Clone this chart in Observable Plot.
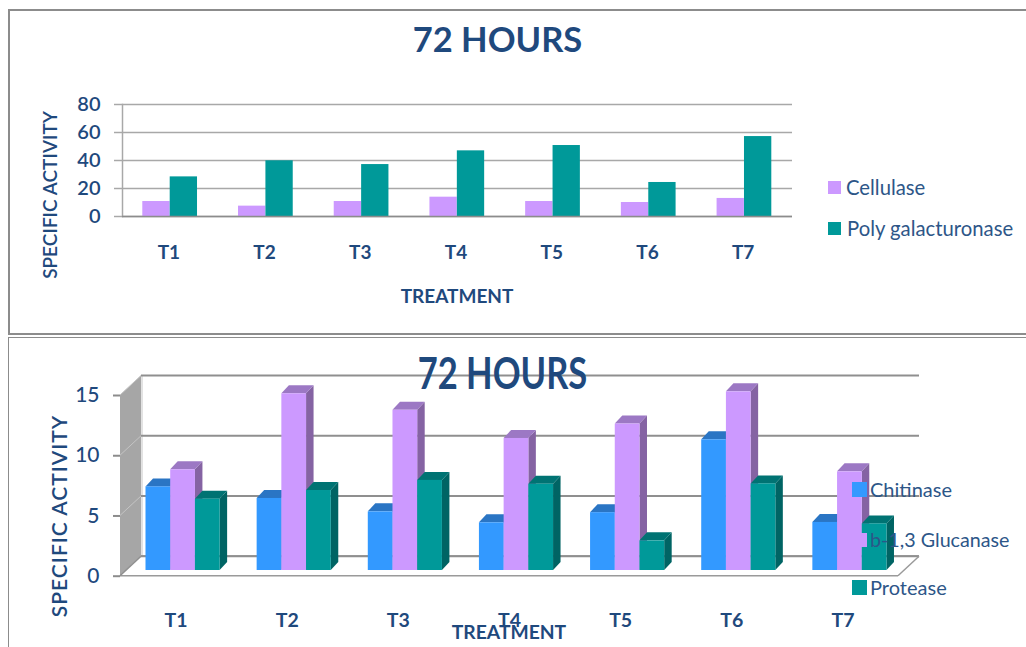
<!DOCTYPE html>
<html>
<head>
<meta charset="utf-8">
<script src="https://cdn.jsdelivr.net/npm/d3@7"></script>
<script src="https://cdn.jsdelivr.net/npm/@observablehq/plot@0.6"></script>
<style>
  html, body { margin: 0; padding: 0; background: #fff; overflow: hidden; }
  #page { position: relative; width: 1026px; height: 647px; overflow: hidden; font-family: Lato, "Open Sans", sans-serif; color: #1f497d; }
  .panel { position: absolute; left: 8px; right: -4px; border: 2px solid #8c8c8c; box-sizing: border-box; }
  .plot { position: absolute; left: 0; }
  .plot svg { display: block; background: transparent; }
  .t { position: absolute; white-space: nowrap; line-height: 1; transform-origin: center; }
  .sw { position: absolute; }
</style>
</head>
<body>
<div id="page"></div>
<script>
const treatments = ["T1", "T2", "T3", "T4", "T5", "T6", "T7"];

// Upper chart
const cellulase = [10.7, 7.4, 10.7, 13.8, 10.7, 10.0, 12.9];
const polyGalacturonase = [28.3, 39.8, 37.1, 46.9, 50.7, 24.3, 57.1];
const upperTicks = [0, 20, 40, 60, 80];

// Lower chart
const chitinase = [6.94, 5.98, 4.87, 3.96, 4.80, 10.85, 3.99];
const glucanase = [8.36, 14.67, 13.30, 10.96, 12.16, 14.83, 8.19];
const protease = [5.92, 6.64, 7.48, 7.16, 2.46, 7.19, 3.87];
const lowerTicks = [0, 5, 10, 15];

const navy = "#1f497d";
const lilac = "#cc99ff", teal = "#009999", blue = "#3399ff";
const page = document.getElementById("page");

function rows(values) { return treatments.map((t, i) => ({t, v: values[i]})); }

function addPlot(top, plot) {
  const d = document.createElement("div");
  d.className = "plot";
  d.style.top = top + "px";
  d.appendChild(plot);
  page.appendChild(d);
}
function addText(s, cx, cy, size, opts = {}) {
  const e = document.createElement("div");
  e.className = "t";
  e.textContent = s;
  e.style.fontSize = size + "px";
  e.style.fontWeight = opts.weight || 400;
  if (opts.spacing) e.style.letterSpacing = opts.spacing + "px";
  if (opts.color) e.style.color = opts.color;
  e.style.left = cx + "px";
  e.style.top = cy + "px";
  e.style.transform = `translate(-50%,-50%) ${opts.transform || ""}`;
  page.appendChild(e);
}
function addLegend(s, color, x, y, size, tx, fontSize, spacing) {
  const w = document.createElement("div");
  w.className = "sw";
  w.style.cssText = `left:${x}px;top:${y}px;width:${size}px;height:${size}px;background:${color}`;
  page.appendChild(w);
  const e = document.createElement("div");
  e.className = "t";
  e.textContent = s;
  e.style.cssText += `left:${tx}px;top:${y + size / 2}px;font-size:${fontSize}px;transform:translateY(-50%);color:#2d5688;letter-spacing:${spacing || 0}px`;
  page.appendChild(e);
}

// panel borders
const p1 = document.createElement("div");
p1.className = "panel";
p1.style.cssText = "top:9px;height:326px";
page.appendChild(p1);
const p2 = document.createElement("div");
p2.className = "panel";
p2.style.cssText = "top:337px;height:330px;border-width:1.5px";
page.appendChild(p2);

// ---------- upper chart ----------
const bandInset1 = 34.2;
addPlot(0, Plot.plot({
  width: 1026, height: 330,
  marginLeft: 122, marginRight: 234, marginTop: 104, marginBottom: 114,
  style: {fontFamily: "Lato", color: navy, background: "transparent"},
  x: {type: "band", domain: treatments, padding: 0, round: false},
  y: {domain: [0, 80]},
  marks: [
    Plot.ruleY(upperTicks, {stroke: "#a8a8a8", strokeWidth: 1.5, strokeOpacity: 1}),
    Plot.frame({anchor: "left", stroke: "#a8a8a8", strokeWidth: 1.5}),
    Plot.barY(rows(cellulase), {x: "t", y: "v", fill: lilac, dx: -13.9, insetLeft: bandInset1, insetRight: bandInset1}),
    Plot.barY(rows(polyGalacturonase), {x: "t", y: "v", fill: teal, dx: 13.5, insetLeft: bandInset1, insetRight: bandInset1}),
    Plot.ruleY([0], {stroke: "#8c8c8c", strokeWidth: 1.5}),
    Plot.axisY({ticks: upperTicks, tickSize: 8, tickPadding: 14, stroke: "#a8a8a8", strokeWidth: 1.5, fontSize: 20, fontWeight: 600, fill: navy, label: null, tickFormat: d => d}),
    Plot.axisX({tickSize: 0, tickPadding: 29, fontSize: 19, fontWeight: 700, fill: navy, label: null, dx: -1.5})
  ]
}));

// ---------- lower chart ----------
const wallDx = 21, wallDy = -19.5;
const barStep = 24.7, barDx = 7, barDy = -5.7, depthX = 7.5, depthY = -8;
const bandInset2 = 43.2;

function poly(g, pts, fill) {
  g.append("polygon").attr("points", pts.map(p => p.join(",")).join(" ")).attr("fill", fill);
}
function line(g, a, b, stroke, w) {
  g.append("line").attr("x1", a[0]).attr("y1", a[1]).attr("x2", b[0]).attr("y2", b[1])
    .attr("stroke", stroke).attr("stroke-width", w);
}
// Back wall, side wall and floor of the 3D box, placed from the plot's y scale
function box(index, {y}, values, {width, marginLeft, marginRight}) {
  const g = d3.create("svg:g");
  const l = marginLeft, r = width - marginRight;
  const y0 = y(0), yMax = y(lowerTicks[lowerTicks.length - 1]);
  poly(g, [[l, yMax], [l + wallDx, yMax + wallDy], [l + wallDx, y0 + wallDy], [l, y0]], "#a6a6a6");
  line(g, [l + wallDx + 1, yMax + wallDy], [l + wallDx + 1, y0 + wallDy], "#d9d9d9", 1.5);
  for (const v of lowerTicks) {
    line(g, [l, y(v)], [l + wallDx, y(v) + wallDy], "#c4c4c4", 1);
    line(g, [l + wallDx, y(v) + wallDy], [r + wallDx, y(v) + wallDy], "#8f8f8f", 2);
  }
  poly(g, [[l, y0], [l + wallDx, y0 + wallDy], [r + wallDx, y0 + wallDy], [r, y0]], "#ffffff");
  line(g, [l + wallDx, y0 + wallDy], [r + wallDx, y0 + wallDy], "#8f8f8f", 2);
  line(g, [l, y0], [r, y0], "#9a9a9a", 1.5);
  line(g, [r, y0], [r + wallDx, y0 + wallDy], "#9a9a9a", 1.5);
  line(g, [l, y0], [l + wallDx, y0 + wallDy], "#8f8f8f", 1.5);
  return g.node();
}
// Top and side faces of one series' bars, placed from the plot's scales
function faces(values, offset, topFill, sideFill) {
  return (index, {x, y}) => {
    const g = d3.create("svg:g");
    const step = x(treatments[1]) - x(treatments[0]);
    treatments.forEach((t, i) => {
      const c = x(t) + step / 2 + offset;
      const a = c - barStep / 2, b = c + barStep / 2;
      const top = y(values[i]) + barDy, base = y(0) + barDy;
      poly(g, [[b, top], [b + depthX, top + depthY], [b + depthX, base + depthY], [b, base]], sideFill);
      poly(g, [[a, top], [a + depthX, top + depthY], [b + depthX, top + depthY], [b, top]], topFill);
    });
    return g.node();
  };
}
function series3d(values, offset, fill, topFill, sideFill) {
  return [
    faces(values, offset, topFill, sideFill),
    Plot.barY(rows(values), {x: "t", y: "v", fill, dx: offset, dy: barDy, insetLeft: bandInset2, insetRight: bandInset2})
  ];
}

addPlot(338, Plot.plot({
  width: 1026, height: 309,
  marginLeft: 120, marginRight: 128, marginTop: 57, marginBottom: 71.3,
  style: {fontFamily: "Lato", color: navy, background: "transparent"},
  x: {type: "band", domain: treatments, padding: 0, round: false},
  y: {domain: [0, 15]},
  marks: [
    box,
    ...series3d(chitinase, barDx - barStep, blue, "#2a75c4", "#2a75c4"),
    ...series3d(glucanase, barDx, lilac, "#9c78c4", "#8563a3"),
    ...series3d(protease, barDx + barStep, teal, "#007373", "#006464"),
    Plot.axisY({ticks: lowerTicks, tickSize: 7, tickPadding: 14, stroke: "#8c8c8c", strokeWidth: 2, fontSize: 21, fontWeight: 500, fill: navy, label: null, tickFormat: d => d}),
    Plot.axisX({tickSize: 0, tickPadding: 37, fontSize: 19.5, fontWeight: 700, fill: navy, label: null})
  ]
}));

// ---------- titles, axis titles and legends ----------
addText("72 HOURS", 497.5, 39, 34.5, {weight: 700});
addText("SPECIFIC ACTIVITY", 49, 195, 19, {weight: 600, transform: "rotate(-90deg)"});
addText("TREATMENT", 457, 295, 19, {weight: 700});
addLegend("Cellulase", lilac, 828, 181, 12.5, 846, 20.3);
addLegend("Poly galacturonase", teal, 828, 222, 12.5, 847, 20.3);

addText("72 HOURS", 502.5, 372.5, 34.5, {weight: 700, transform: "scaleY(1.25)"});
addText("SPECIFIC ACTIVITY", 58, 516, 21, {weight: 600, spacing: 1, transform: "rotate(-90deg)"});
addText("TREATMENT", 509, 632, 19.3, {weight: 700});
addLegend("Chitinase", blue, 852, 482, 14.5, 870, 20);
addLegend("b-1,3 Glucanase", lilac, 852, 532.5, 14.5, 870, 19.7);
addLegend("Protease", teal, 852, 580, 14.5, 870, 20);
</script>
</body>
</html>
